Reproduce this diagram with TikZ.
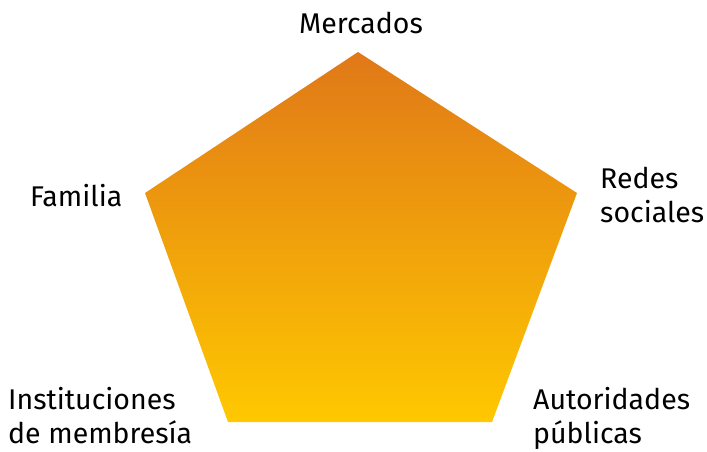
\documentclass[tikz,border=0pt]{standalone}
\usepackage{fontspec}
\setmainfont{Fira Sans}
\definecolor{topc}{HTML}{E07818}
\definecolor{botc}{HTML}{FFC800}
\begin{document}
\begin{tikzpicture}[x=1pt,y=-1pt,
  lbl/.style={font=\fontsize{28.5}{34}\selectfont, inner sep=0pt, align=left}]
\useasboundingbox (0,0) rectangle (707,451);
\coordinate (t) at (358,52);
\coordinate (r) at (577,193);
\coordinate (br) at (492,422);
\coordinate (bl) at (228,422);
\coordinate (l) at (145,193);
\shade[top color=topc, bottom color=botc] (t) -- (r) -- (br) -- (bl) -- (l) -- cycle;
\node[lbl, anchor=base] (m) at (361,33) {Mercados};
\node[lbl, anchor=base west] (f) at (30,206) {Familia};
\node[lbl, anchor=base west] (rs) at (600,222) {Redes\\sociales};
\node[lbl, anchor=base west] (im) at (8,443) {Instituciones\\de membresía};
\node[lbl, anchor=base west] (ap) at (533,443) {Autoridades\\públicas};
\end{tikzpicture}
\end{document}
